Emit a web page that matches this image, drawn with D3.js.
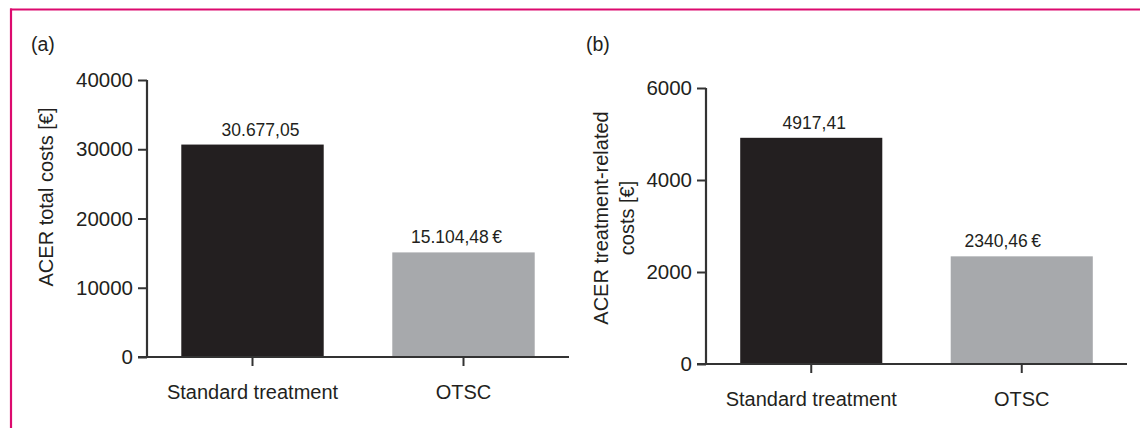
<!DOCTYPE html>
<html>
<head>
<meta charset="utf-8">
<script src="https://cdn.jsdelivr.net/npm/d3@7"></script>
<style>
  html, body { margin: 0; padding: 0; background: #fff; }
  svg { display: block; font-family: "Liberation Sans", Arial, sans-serif; }
</style>
</head>
<body>
<svg id="chart" width="1140" height="428"></svg>
<script>
// ---- data ----
const categories = ["Standard treatment", "OTSC"];
const totalCosts = [30677.05, 15104.48];
const totalLabels = ["30.677,05", "15.104,48\u2009€"];
const totalTicks = [0, 10000, 20000, 30000, 40000];
const treatmentCosts = [4917.41, 2340.46];
const treatmentLabels = ["4917,41", "2340,46\u2009€"];
const treatmentTicks = [0, 2000, 4000, 6000];
const barColors = ["#231f20", "#a7a9ac"];

const svg = d3.select("#chart");
const ink = "#231f20";

// frame (pink border, top & left)
svg.append("line").attr("x1", 10).attr("x2", 1140).attr("y1", 9.5).attr("y2", 9.5)
  .attr("stroke", "#dc0a6e").attr("stroke-width", 2.2);
svg.append("line").attr("x1", 11).attr("x2", 11).attr("y1", 8.5).attr("y2", 428)
  .attr("stroke", "#dc0a6e").attr("stroke-width", 2.2);

function panel(opts) {
  const g = svg.append("g");
  const y = d3.scaleLinear().domain([0, d3.max(opts.ticks)]).range([opts.y0, opts.y1]);
  const x = d3.scaleBand().domain(categories).range([opts.x0, opts.x1])
    .paddingInner(0.325).paddingOuter(0.1625);

  // bars
  g.selectAll("rect.bar").data(opts.values).join("rect")
    .attr("class", "bar")
    .attr("x", (d, i) => x(categories[i]))
    .attr("width", x.bandwidth())
    .attr("y", d => y(d))
    .attr("height", d => y(0) - y(d))
    .attr("fill", (d, i) => barColors[i]);

  // value labels
  g.selectAll("text.val").data(opts.values).join("text")
    .attr("class", "val")
    .attr("x", (d, i) => x(categories[i]) + x.bandwidth() / 2 + opts.labelShift[i])
    .attr("y", d => y(d) - 9)
    .attr("text-anchor", "middle")
    .attr("font-size", 17.5)
    .attr("fill", ink)
    .text((d, i) => opts.labels[i]);

  // y axis
  const ya = g.append("g").attr("transform", `translate(${opts.x0},0)`)
    .call(d3.axisLeft(y).tickValues(opts.ticks).tickFormat(d3.format("d")).tickSize(9).tickPadding(5));
  ya.select(".domain").attr("d", `M0,${opts.y0}V${opts.y1}`).attr("stroke", "#333").attr("stroke-width", 2.2);
  ya.selectAll(".tick line").attr("stroke", "#333").attr("stroke-width", 2);
  ya.selectAll(".tick text").attr("font-size", 20.5).attr("fill", ink)
    .attr("font-family", "Liberation Sans, Arial, sans-serif");

  // x axis
  const xa = g.append("g").attr("transform", `translate(0,${opts.y0})`)
    .call(d3.axisBottom(x).tickSize(9).tickPadding(19));
  xa.select(".domain").attr("d", `M${opts.x0 - 9},0H${opts.x1}`).attr("stroke", "#333").attr("stroke-width", 2.2);
  xa.selectAll(".tick line").attr("stroke", "#333").attr("stroke-width", 2);
  xa.selectAll(".tick text").attr("font-size", 20).attr("fill", ink)
    .attr("font-family", "Liberation Sans, Arial, sans-serif");

  // y title
  const t = g.append("text")
    .attr("transform", `translate(${opts.titleX},${opts.titleY}) rotate(-90)`)
    .attr("text-anchor", "middle")
    .attr("font-size", 20)
    .attr("fill", ink);
  opts.title.forEach((line, i) => {
    t.append("tspan").attr("x", 0).attr("dy", i === 0 ? 0 : 26).text(line);
  });

  // panel letter
  g.append("text").attr("x", opts.letterX).attr("y", 51)
    .attr("font-size", 19.5).attr("fill", ink).text(opts.letter);
}

panel({
  values: totalCosts, labels: totalLabels, ticks: totalTicks,
  x0: 147, x1: 569, y0: 357, y1: 80,
  labelShift: [8, -7],
  title: ["ACER total costs [€]"], titleX: 53, titleY: 197,
  letter: "(a)", letterX: 31
});

panel({
  values: treatmentCosts, labels: treatmentLabels, ticks: treatmentTicks,
  x0: 706, x1: 1127, y0: 364, y1: 88,
  labelShift: [3, -19],
  title: ["ACER treatment-related", "costs [€]"], titleX: 608, titleY: 218,
  letter: "(b)", letterX: 586
});
</script>
</body>
</html>
